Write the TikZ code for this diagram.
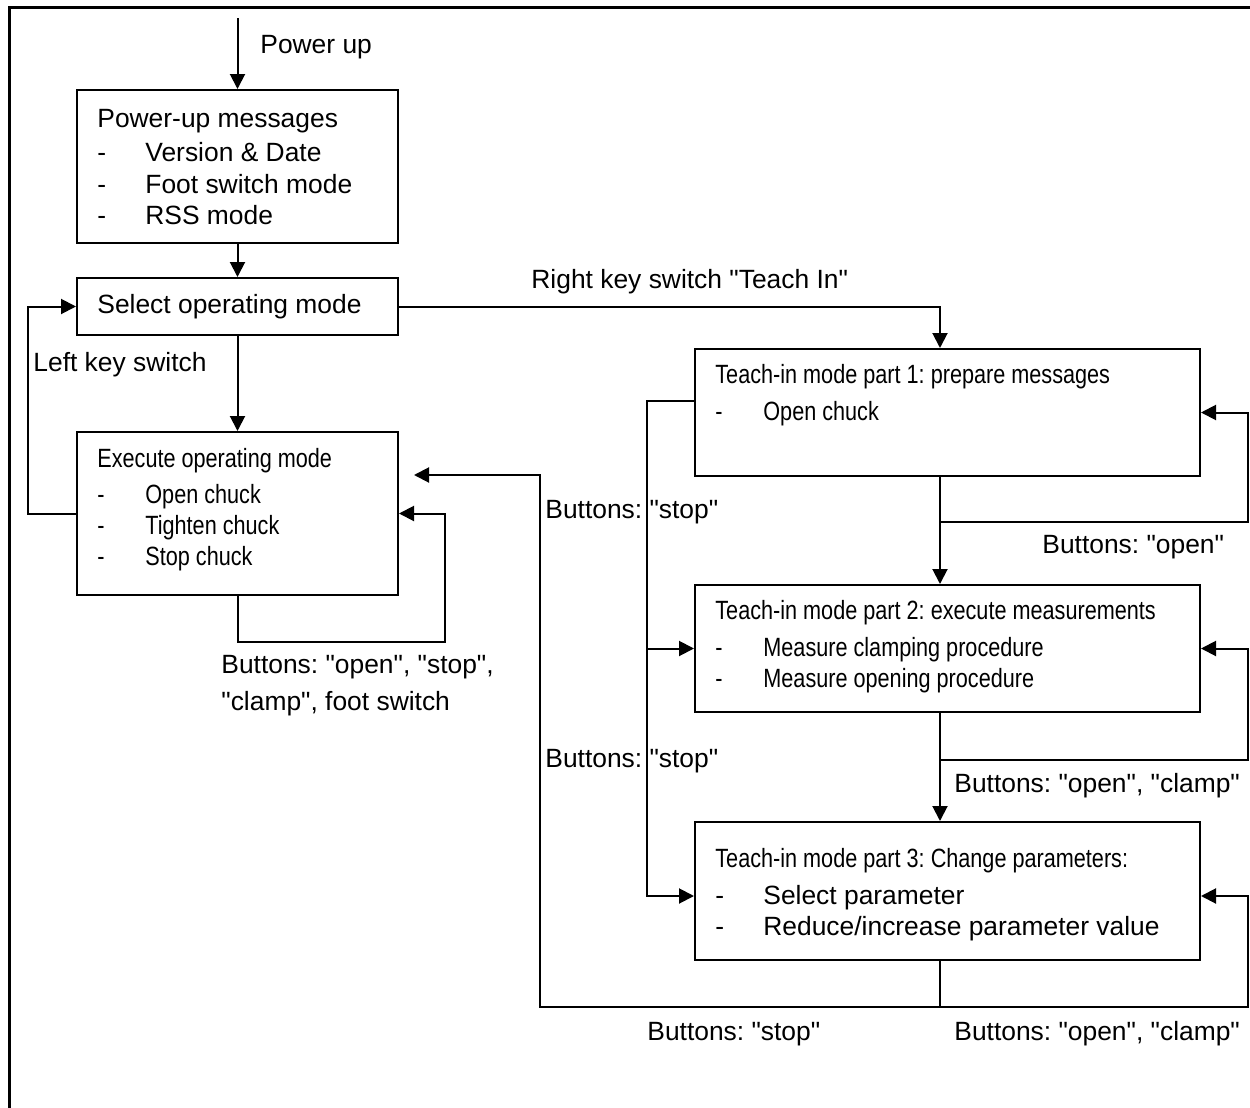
\documentclass[tikz,border=0pt]{standalone}
\usepackage{fontspec}
\setmainfont{Liberation Sans}[Ligatures=TeXOff]
\newfontfamily\narrowfont{Liberation Sans}[FakeStretch=0.82, Ligatures=TeXOff]
\usetikzlibrary{arrows.meta}
\frenchspacing

\tikzset{
	box/.style={draw, line width=1pt, inner sep=0pt},
	txt/.style={anchor=base west, inner sep=0pt, font=\fontsize{13.2}{15.5}\selectfont},
	ntxt/.style={txt, font=\narrowfont\fontsize{13.2}{15.5}\selectfont},
	arr/.style={line width=1pt, -{Triangle[length=7.5pt,width=7.5pt]}}
}

\begin{document}
\begin{tikzpicture}[x=0.5pt,y=-0.5pt]
	\useasboundingbox (0,0) rectangle (1250,1108);
	% Rahmen
	\draw[line width=1.5pt] (9,1108) -- (9,7) -- (1250,7);

	% Kaesten links
	\node[box, minimum width=160.5pt, minimum height=76.5pt] (pum) at (237.5,166.5) {};
	\node[box, minimum width=160.5pt, minimum height=28.5pt] (sel) at (237.5,306.5) {};
	\node[box, minimum width=160.5pt, minimum height=81.5pt] (exe) at (237.5,513.5) {};
	% Kaesten rechts (Teach-in)
	\node[box, minimum width=252.5pt, minimum height=63.5pt] (ti1) at (947.5,412.5) {};
	\node[box, minimum width=252.5pt, minimum height=63.5pt] (ti2) at (947.5,648.5) {};
	\node[box, minimum width=252.5pt, minimum height=69pt] (ti3) at (947.5,891) {};

	% Hilfspunkte
	\coordinate (pin) at (237.5,18);
	\coordinate (tx) at (940,0);
	\coordinate (ein) at (414,475);
	\coordinate (sj) at (647,648.5);

	% Texte in den Kaesten
	\node[txt] (pumt) at (97,127) {Power-up messages};
	\foreach \y/\t [count=\i] in {162/Version \& Date, 193/Foot switch mode, 224/RSS mode}{
		\node[txt] (pumd\i) at (97,\y) {-};
		\node[txt] (pumi\i) at (145,\y) {\t};
	}
	\node[txt] (selt) at (97,313) {Select operating mode};
	\node[ntxt] (exet) at (97,467) {Execute operating mode};
	\foreach \y/\t [count=\i] in {503/Open chuck, 534/Tighten chuck, 565/Stop chuck}{
		\node[ntxt] (exed\i) at (97,\y) {-};
		\node[ntxt] (exei\i) at (145,\y) {\t};
	}
	\node[ntxt] (ti1t) at (715,383) {Teach-in mode part 1: prepare messages};
	\node[ntxt] (ti1d) at (715,420) {-};
	\node[ntxt] (ti1i) at (763,420) {Open chuck};
	\node[ntxt] (ti2t) at (715,619) {Teach-in mode part 2: execute measurements};
	\foreach \y/\t [count=\i] in {656/Measure clamping procedure, 687/Measure opening procedure}{
		\node[ntxt] (ti2d\i) at (715,\y) {-};
		\node[ntxt] (ti2i\i) at (763,\y) {\t};
	}
	\node[ntxt] (ti3t) at (715,867) {Teach-in mode part 3: Change parameters:};
	\foreach \y/\t [count=\i] in {904/{Select parameter}, 935/{Reduce/increase parameter value}}{
		\node[txt] (ti3d\i) at (715,\y) {-};
		\node[txt] (ti3i\i) at (763,\y) {\t};
	}

	% Beschriftungen der Pfeile
	\node[txt] (pwr) at (260,54) {Power up};
	\node[txt] (lks) at (33,371) {Left key switch};
	\node[txt] (rks) at (531,288) {Right key switch "Teach In"};
	\node[txt] (exb1) at (221,673) {Buttons: "open", "stop",};
	\node[txt] (exb2) at (221,710) {"clamp", foot switch};
	\node[txt] (st1) at (545,518) {Buttons: "stop"};
	\node[txt] (st2) at (545,767) {Buttons: "stop"};
	\node[txt] (st3) at (647,1040) {Buttons: "stop"};
	\node[txt] (op1) at (1042,553) {Buttons: "open"};
	\node[txt] (op2) at (954,792) {Buttons: "open", "clamp"};
	\node[txt] (op3) at (954,1040) {Buttons: "open", "clamp"};

	% Pfeile links
	\draw[arr] (pin) -- (pum.north);
	\draw[arr] (pum.south) -- (sel.north);
	\draw[arr] (sel.south) -- (exe.north);
	\draw[arr] (exe.west) -- (28,513.5) |- (sel.west);
	\draw[arr] (exe.south) |- (445,642) |- (exe.east);
	% Pfeile rechts
	\draw[arr] (sel.east) -| (ti1.north -| tx);
	\draw[arr] (ti1.south -| tx) -- (ti2.north -| tx);
	\draw[arr] (ti1.south -| tx) |- (1248,522) |- (ti1.east);
	\draw[arr] (ti2.south -| tx) -- (ti3.north -| tx);
	\draw[arr] (ti2.south -| tx) |- (1248,760) |- (ti2.east);
	\draw[arr] (ti3.south -| tx) |- (1248,1007) |- (ti3.east |- 0,896);
	\draw[arr] (ti3.south -| tx) |- (540,1007) |- (ein);
	\draw[arr] (ti1.west |- 0,401) -| (647,896) -- (ti3.west |- 0,896);
	\draw[arr] (sj) -- (ti2.west);
\end{tikzpicture}
\end{document}
